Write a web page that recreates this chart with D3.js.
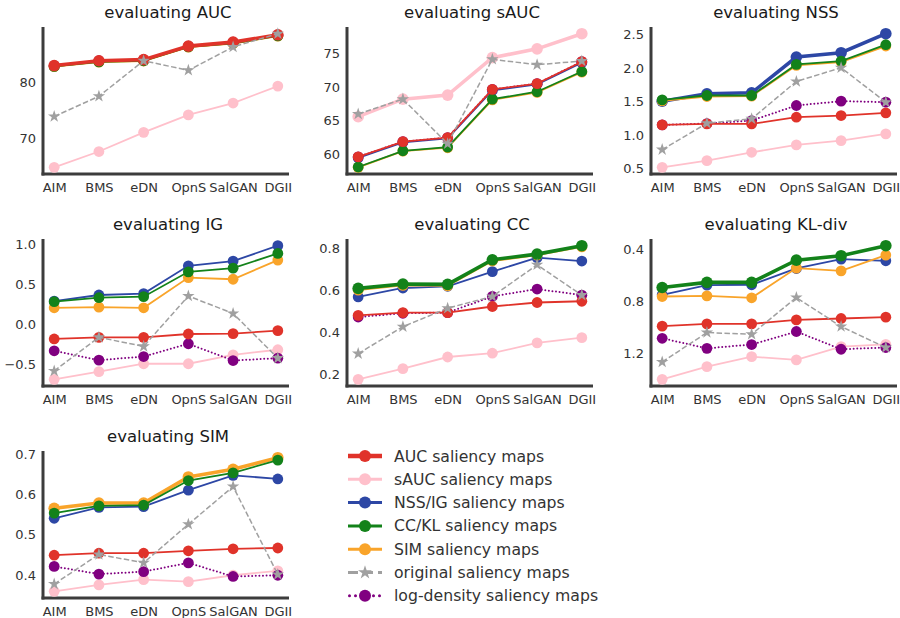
<!DOCTYPE html>
<html>
<head>
<meta charset="utf-8">
<script src="https://cdn.jsdelivr.net/npm/d3@7"></script>
<style>
  body { margin: 0; background: #fff; }
  svg { display: block; }
</style>
</head>
<body>
<svg id="chart" width="900" height="618"></svg>
<script>
const models = ["AIM", "BMS", "eDN", "OpnS", "SalGAN", "DGII"];
const metrics = ["AUC", "sAUC", "NSS", "IG", "CC", "KL-div", "SIM"];
const yTicks = [
  [70, 80],
  [60, 65, 70, 75],
  [0.5, 1.0, 1.5, 2.0, 2.5],
  [-0.5, 0.0, 0.5, 1.0],
  [0.2, 0.4, 0.6, 0.8],
  [0.4, 0.8, 1.2],
  [0.4, 0.5, 0.6, 0.7]
];
// which saliency map type is drawn thick in each panel
const emphasis = ["auc", "sauc", "nss", null, "cc", "cc", "sim"];

// one row per metric, in the order of `metrics`
const aucMaps = [
  [82.95, 83.8, 84.0, 86.4, 87.1, 88.4],
  [59.65, 61.9, 62.5, 69.65, 70.5, 73.75],
  [1.15, 1.165, 1.165, 1.265, 1.29, 1.33],
  [-0.18, -0.16, -0.16, -0.118, -0.113, -0.076],
  [0.48, 0.493, 0.493, 0.522, 0.541, 0.547],
  [0.992, 0.974, 0.974, 0.944, 0.933, 0.923],
  [0.449, 0.454, 0.454, 0.46, 0.465, 0.467]
];
const saucMaps = [
  [64.9, 67.7, 71.1, 74.2, 76.3, 79.3],
  [65.6, 68.2, 68.8, 74.35, 75.65, 77.9],
  [0.515, 0.615, 0.74, 0.85, 0.915, 1.015],
  [-0.685, -0.588, -0.49, -0.49, -0.378, -0.315],
  [0.176, 0.227, 0.282, 0.30, 0.349, 0.374],
  [1.40, 1.303, 1.226, 1.251, 1.149, 1.131],
  [0.359, 0.375, 0.388, 0.383, 0.399, 0.41]
];
const nssMaps = [
  [82.8, 83.7, 83.85, 86.3, 87.0, 88.3],
  [59.5, 61.8, 62.4, 69.5, 70.4, 73.6],
  [1.505, 1.615, 1.63, 2.165, 2.23, 2.515],
  [0.294, 0.37, 0.387, 0.735, 0.794, 0.987],
  [0.568, 0.61, 0.618, 0.688, 0.754, 0.738],
  [0.751, 0.677, 0.674, 0.549, 0.477, 0.49],
  [0.541, 0.568, 0.57, 0.611, 0.648, 0.639]
];
const ccMaps = [
  [82.8, 83.6, 83.8, 86.25, 86.9, 88.2],
  [58.15, 60.55, 61.1, 68.2, 69.3, 72.3],
  [1.525, 1.59, 1.59, 2.055, 2.105, 2.35],
  [0.286, 0.336, 0.349, 0.66, 0.706, 0.89],
  [0.608, 0.629, 0.627, 0.744, 0.771, 0.811],
  [0.695, 0.656, 0.656, 0.485, 0.451, 0.374],
  [0.554, 0.572, 0.574, 0.635, 0.654, 0.686]
];
const simMaps = [
  [82.75, 83.55, 83.75, 86.2, 86.85, 88.15],
  [58.1, 60.5, 61.0, 68.1, 69.2, 72.2],
  [1.51, 1.575, 1.58, 2.04, 2.09, 2.33],
  [0.21, 0.218, 0.21, 0.588, 0.567, 0.807],
  [0.60, 0.622, 0.62, 0.738, 0.766, 0.805],
  [0.764, 0.759, 0.774, 0.546, 0.567, 0.446],
  [0.566, 0.579, 0.579, 0.644, 0.663, 0.692]
];
const origMaps = [
  [73.9, 77.5, 83.8, 82.1, 86.25, 88.6],
  [66.0, 68.2, 61.6, 74.1, 73.3, 73.85],
  [0.78, 1.175, 1.24, 1.80, 2.005, 1.49],
  [-0.58, -0.16, -0.273, 0.357, 0.139, -0.42],
  [0.298, 0.426, 0.514, 0.57, 0.72, 0.576],
  [1.267, 1.041, 1.054, 0.772, 0.995, 1.156],
  [0.377, 0.451, 0.43, 0.526, 0.62, 0.401]
];
const logDensityMaps = [
  [82.95, 83.8, 84.0, 86.4, 87.1, 88.4],
  [59.65, 61.9, 62.5, 69.65, 70.5, 73.75],
  [1.15, 1.17, 1.215, 1.44, 1.505, 1.49],
  [-0.328, -0.445, -0.40, -0.24, -0.45, -0.42],
  [0.472, 0.49, 0.493, 0.57, 0.605, 0.576],
  [1.085, 1.162, 1.133, 1.033, 1.169, 1.156],
  [0.421, 0.402, 0.408, 0.43, 0.396, 0.399]
];

const series = {
  auc:  { label: "AUC saliency maps",         color: "#e0332a", values: aucMaps },
  sauc: { label: "sAUC saliency maps",        color: "#ffc0cb", values: saucMaps },
  nss:  { label: "NSS/IG saliency maps",      color: "#2d47a5", values: nssMaps },
  cc:   { label: "CC/KL saliency maps",       color: "#13821a", values: ccMaps },
  sim:  { label: "SIM saliency maps",         color: "#f9a42a", values: simMaps },
  orig: { label: "original saliency maps",    color: "#a0a0a0", values: origMaps, star: true, dash: "5.5,2.4" },
  logd: { label: "log-density saliency maps", color: "#800080", values: logDensityMaps, dotted: true }
};
const legendOrder = ["auc", "sauc", "nss", "cc", "sim", "orig", "logd"];
const drawOrder = ["sauc", "nss", "sim", "logd", "cc", "auc", "orig"];

const svg = d3.select("#chart");
const font = "DejaVu Sans, sans-serif";

// panel grid
const colX = [43, 347, 651];
const rowY = [27, 239, 451];
const pw = 246, ph = 147;

const star = d3.symbol().type(d3.symbolStar).size(48);

metrics.forEach((metric, m) => {
  const left = colX[m % 3], top = rowY[Math.floor(m / 3)];
  const g = svg.append("g").attr("transform", `translate(${left},${top})`);

  const x = d3.scaleLinear().domain([-0.25, models.length - 0.75]).range([0, pw]);

  const all = drawOrder.flatMap(k => series[k].values[m]);
  const [lo, hi] = d3.extent(all);
  const pad = (hi - lo) * 0.05;
  const y = d3.scaleLinear().domain([lo - pad, hi + pad]);
  y.range(metric === "KL-div" ? [0, ph] : [ph, 0]);

  const fmt = m < 2 ? d3.format("d") : d3.format(".1f");

  // axes (seaborn white style: no tick marks, thick left/bottom spines)
  const gx = g.append("g")
    .attr("transform", `translate(0,${ph})`)
    .call(d3.axisBottom(x).tickValues(d3.range(models.length)).tickFormat(i => models[i]).tickSize(0).tickPadding(7));
  const gy = g.append("g")
    .call(d3.axisLeft(y).tickValues(yTicks[m]).tickFormat(fmt).tickSize(0).tickPadding(7));

  [gx, gy].forEach(a => {
    a.select(".domain").remove();
    a.selectAll("text")
      .attr("fill", "#333")
      .attr("font-family", font)
      .attr("font-size", 13);
  });
  gx.selectAll("text").attr("dy", "0.85em");

  g.append("line").attr("x1", 0).attr("x2", 0).attr("y1", 0).attr("y2", ph + 1.5)
    .attr("stroke", "#3c3c3c").attr("stroke-width", 3);
  g.append("line").attr("x1", -1.5).attr("x2", pw).attr("y1", ph).attr("y2", ph)
    .attr("stroke", "#3c3c3c").attr("stroke-width", 3);

  g.append("text")
    .attr("x", pw / 2 + 2)
    .attr("y", -9)
    .attr("text-anchor", "middle")
    .attr("fill", "#1a1a1a")
    .attr("font-family", font)
    .attr("font-size", 16.5)
    .text(`evaluating ${metric}`);

  const line = d3.line().x((d, i) => x(i)).y(d => y(d));

  drawOrder.forEach(k => {
    const s = series[k];
    const vals = s.values[m];
    const thick = emphasis[m] === k;

    const path = g.append("path")
      .datum(vals)
      .attr("d", line)
      .attr("fill", "none")
      .attr("stroke", s.color)
      .attr("stroke-width", thick ? 3.6 : 1.8);
    if (s.dash) path.attr("stroke-dasharray", s.dash).attr("stroke-width", 1.5);
    if (s.dotted) path.attr("stroke-dasharray", "0,3.6").attr("stroke-linecap", "round").attr("stroke-width", 2);

    if (s.star) {
      g.selectAll(null)
        .data(vals)
        .enter()
        .append("path")
        .attr("d", star)
        .attr("transform", (d, i) => `translate(${x(i)},${y(d)})`)
        .attr("fill", s.color);
    } else {
      g.selectAll(null)
        .data(vals)
        .enter()
        .append("circle")
        .attr("cx", (d, i) => x(i))
        .attr("cy", d => y(d))
        .attr("r", thick ? 5.8 : 5.4)
        .attr("fill", s.color);
    }
  });
});

// legend
const legend = svg.append("g").attr("transform", "translate(348,456)");
legendOrder.forEach((k, i) => {
  const s = series[k];
  const row = legend.append("g").attr("transform", `translate(0,${i * 23.3})`);
  const ln = row.append("line")
    .attr("x1", 0).attr("x2", 34)
    .attr("stroke", s.color)
    .attr("stroke-width", k === "auc" ? 4.5 : 3);
  if (s.dash) ln.attr("stroke-dasharray", "10,5");
  if (s.dotted) ln.attr("stroke-dasharray", "0,6").attr("stroke-linecap", "round").attr("x1", 1.5);

  if (s.star) {
    row.append("path").attr("d", d3.symbol().type(d3.symbolStar).size(60)).attr("transform", "translate(17,0)").attr("fill", s.color);
  } else {
    row.append("circle").attr("cx", 17).attr("cy", 0).attr("r", 6).attr("fill", s.color);
  }

  row.append("text")
    .attr("x", 46)
    .attr("y", 5.5)
    .attr("fill", "#333")
    .attr("font-family", font)
    .attr("font-size", 15.7)
    .text(s.label);
});
</script>
</body>
</html>
